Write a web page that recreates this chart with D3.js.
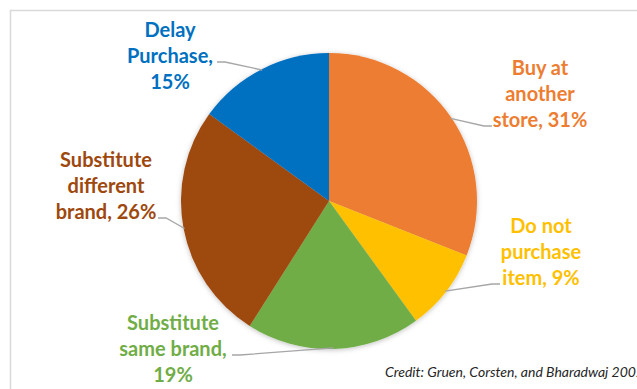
<!DOCTYPE html>
<html>
<head>
<meta charset="utf-8">
<script src="https://cdn.jsdelivr.net/npm/d3@7"></script>
<style>
	body { margin: 0; background: #fff; }
	svg text { font-family: Lato, "Open Sans", sans-serif; }
</style>
</head>
<body>
<div id="chart"></div>
<script>
// Reasons shoppers gave when an item was out of stock (share of responses)
const categories = ["Buy at another store", "Do not purchase item", "Substitute same brand", "Substitute different brand", "Delay Purchase"];
const shares = [31, 9, 19, 26, 15];
const labelLines = [
	["Buy at", "another", "store, 31%"],
	["Do not", "purchase", "item, 9%"],
	["Substitute", "same brand,", "19%"],
	["Substitute", "different", "brand, 26%"],
	["Delay", "Purchase,", "15%"]
];
const colors = ["#ED7D31", "#FFC000", "#70AD47", "#9E480E", "#0070C0"];
const credit = "Credit: Gruen, Corsten, and Bharadwaj 2002";

const width = 637, height = 389;
const cx = 329, cy = 201, radius = 148;

// where each label block sits (centre x, first baseline) and where its leader attaches
const labelPos = [
	{ x: 540, y: 75, lx: 492, ly: 126, side: 1 },
	{ x: 541, y: 233, lx: 500, ly: 284, side: 1 },
	{ x: 173, y: 330, lx: 232, ly: 355, side: -1 },
	{ x: 106, y: 167, lx: 158, ly: 218, side: -1 },
	{ x: 170, y: 37, lx: 217, ly: 62, side: -1 }
];
const lineHeight = 26;

const svg = d3.select("#chart").append("svg")
	.attr("width", width)
	.attr("height", height);

const defs = svg.append("defs");
defs.append("filter").attr("id", "shadow")
	.attr("x", "-10%").attr("y", "-10%").attr("width", "120%").attr("height", "120%")
	.append("feDropShadow")
	.attr("dx", 0).attr("dy", 1)
	.attr("stdDeviation", 2.5)
	.attr("flood-color", "#000")
	.attr("flood-opacity", 0.25);

// chart area frame (runs off the right and bottom edge)
svg.append("rect")
	.attr("x", 10.5).attr("y", 10.5)
	.attr("width", 700).attr("height", 500)
	.attr("fill", "none")
	.attr("stroke", "#D9D9D9")
	.attr("stroke-width", 1.5);

const pie = d3.pie().sort(null).value(d => d)(shares);
const arc = d3.arc().innerRadius(0).outerRadius(radius);

const g = svg.append("g").attr("transform", `translate(${cx},${cy})`);

g.append("g").attr("filter", "url(#shadow)")
	.selectAll("path")
	.data(pie)
	.enter().append("path")
	.attr("d", arc)
	.attr("fill", (d, i) => colors[i]);

// leader lines: from the label, short flat stub, then to the middle of the slice edge
pie.forEach((d, i) => {
	const p = labelPos[i];
	const mid = (d.startAngle + d.endAngle) / 2;
	const ex = cx + (radius - 1) * Math.sin(mid);
	const ey = cy - (radius - 1) * Math.cos(mid);
	const stub = p.lx - p.side * 8;
	svg.append("polyline")
		.attr("points", `${p.lx},${p.ly} ${stub},${p.ly} ${ex},${ey}`)
		.attr("fill", "none")
		.attr("stroke", "#A6A6A6")
		.attr("stroke-width", 1.3);
});

// data labels
labelLines.forEach((lines, i) => {
	const p = labelPos[i];
	const t = svg.append("text")
		.attr("text-anchor", "middle")
		.attr("fill", colors[i])
		.style("font-size", "20px")
		.style("font-weight", "bold");
	lines.forEach((s, k) => {
		t.append("tspan")
			.attr("x", p.x)
			.attr("y", p.y + k * lineHeight)
			.text(s);
	});
});

svg.append("text")
	.attr("x", 385)
	.attr("y", 377)
	.attr("fill", "#262626")
	.style("font-size", "14px")
	.style("font-style", "italic")
	.text(credit);
</script>
</body>
</html>
